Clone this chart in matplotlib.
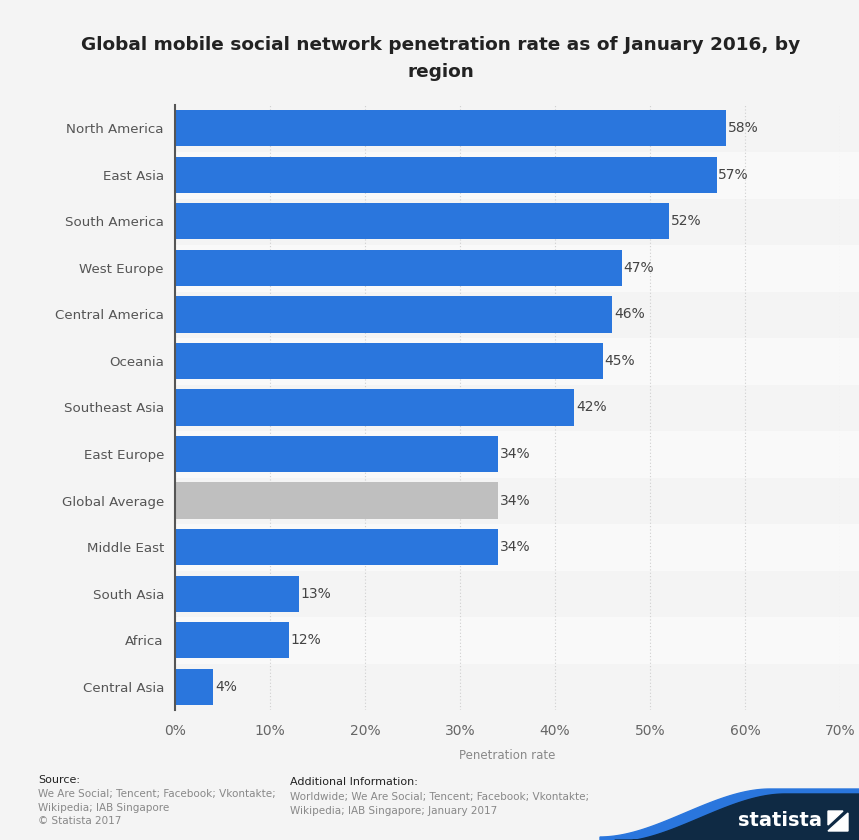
import matplotlib.pyplot as plt
import numpy as np
from matplotlib.patches import Polygon

regions = [
    "North America", "East Asia", "South America", "West Europe",
    "Central America", "Oceania", "Southeast Asia", "East Europe",
    "Global Average", "Middle East", "South Asia", "Africa", "Central Asia",
]
rates = [58, 57, 52, 47, 46, 45, 42, 34, 34, 34, 13, 12, 4]
highlight = "Global Average"
x_ticks = [0, 10, 20, 30, 40, 50, 60, 70]

BLUE = "#2a76dd"
GREY_BAR = "#bfbfbf"
BG = "#f4f4f4"
STRIPE = "#f9f9f9"

fig = plt.figure(figsize=(8.59, 8.4), dpi=100, facecolor=BG)
W, H = 859, 840

# axes placed in pixel terms: left 175, right 840, top 105, bottom 710
ax = fig.add_axes([175 / W, 1 - 710 / H, (840 - 175) / W, (710 - 105) / H])
ax.set_facecolor(BG)

y = np.arange(len(regions))
colors = [GREY_BAR if r == highlight else BLUE for r in regions]

# alternating row stripes
for i in y:
    if i % 2 == 1:
        ax.axhspan(i - 0.5, i + 0.5, xmin=0, xmax=1.03, color=STRIPE, zorder=0, clip_on=False)

ax.barh(y, rates, height=0.78, color=colors, zorder=3)

for i, v in zip(y, rates):
    ax.text(v + 0.2, i, f"{v}%", va="center", ha="left", fontsize=10, color="#444444", zorder=4)

ax.set_ylim(len(regions) - 0.5, -0.5)
ax.set_xlim(0, 70)
ax.set_yticks(y)
ax.set_yticklabels(regions, fontsize=9.6, color="#555555")
ax.set_xticks(x_ticks)
ax.set_xticklabels([f"{t}%" for t in x_ticks], fontsize=10, color="#666666")
ax.tick_params(axis="both", length=0)
ax.tick_params(axis="y", pad=8)
ax.tick_params(axis="x", pad=10)

ax.grid(axis="x", color="#cfcfcf", linestyle=(0, (1, 2)), linewidth=0.8, zorder=1)
ax.set_axisbelow(True)

for side in ["top", "right", "bottom"]:
    ax.spines[side].set_visible(False)
ax.spines["left"].set_color("#555555")
ax.spines["left"].set_linewidth(1.5)
ax.spines["left"].set_zorder(5)

ax.set_xlabel("Penetration rate", fontsize=8.5, color="#888888", labelpad=8)

fig.text(441 / W, 1 - 45 / H, "Global mobile social network penetration rate as of January 2016, by",
         ha="center", va="center", fontsize=13.3, fontweight="bold", color="#222222")
fig.text(441 / W, 1 - 72 / H, "region",
         ha="center", va="center", fontsize=13.3, fontweight="bold", color="#222222")

# footer
fig.text(38 / W, 1 - 780 / H, "Source:", fontsize=8, color="#222222", va="center")
fig.text(38 / W, 1 - 789 / H, "We Are Social; Tencent; Facebook; Vkontakte;\nWikipedia; IAB Singapore\n\u00a9 Statista 2017",
         fontsize=7.5, color="#888888", va="top", linespacing=1.45)
fig.text(290 / W, 1 - 782 / H, "Additional Information:", fontsize=8, color="#222222", va="center")
fig.text(290 / W, 1 - 792 / H, "Worldwide; We Are Social; Tencent; Facebook; Vkontakte;\nWikipedia; IAB Singapore; January 2017",
         fontsize=7.5, color="#888888", va="top", linespacing=1.45)

# statista logo block
logo = fig.add_axes([0, 0, 1, 1], facecolor="none")
logo.set_xlim(0, W)
logo.set_ylim(H, 0)
logo.axis("off")
t = np.linspace(0, 1, 60)
# smooth s-curve from bottom-left up to a flat top edge
cx = 610 + 170 * t
cy = 840 - 48 * (3 * t ** 2 - 2 * t ** 3)
blue_pts = [(600, 840)] + list(zip(cx - 10, cy - 3)) + [(859, 789), (859, 840)]
logo.add_patch(Polygon(blue_pts, closed=True, color="#2a76dd", zorder=1))
dark_pts = [(615, 840)] + list(zip(cx + 5, cy + 2)) + [(859, 794), (859, 840)]
logo.add_patch(Polygon(dark_pts, closed=True, color="#0f2a44", zorder=2))
logo.text(780, 820, "statista", color="white", fontsize=14, fontweight="bold",
          ha="center", va="center", zorder=3)
# icon: two white triangles forming a square with a diagonal slash
logo.add_patch(Polygon([(828, 831), (848, 813), (848, 831)], closed=True, color="white", zorder=3))
logo.add_patch(Polygon([(828, 811), (843, 811), (828, 825)], closed=True, color="white", zorder=3))

fig.savefig("out.png", dpi=100, facecolor=BG)
